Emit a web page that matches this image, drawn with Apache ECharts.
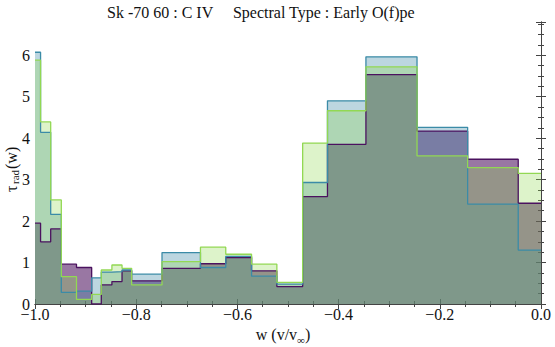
<!DOCTYPE html>
<html>
<head>
<meta charset="utf-8">
<script src="https://cdn.jsdelivr.net/npm/echarts@6/dist/echarts.min.js"></script>
<style>html,body{margin:0;padding:0;background:#fff}#c{width:555px;height:347px}</style>
</head>
<body>
<div id="c"></div>
<script>
// Bin edges (w = v/v_inf)
const edges = [-1.0, -0.989, -0.969, -0.948, -0.918, -0.888, -0.869, -0.848, -0.828, -0.809, -0.749, -0.673, -0.623, -0.572, -0.522, -0.471, -0.422, -0.346, -0.245, -0.145, -0.045, 0.0];
// tau_rad per bin, three histograms
const purpleVals = [1.95, 1.50, 1.81, 0.96, 0.88, 0.00, 0.46, 0.54, 0.80, 0.56, 0.86, 0.97, 1.12, 0.80, 0.42, 2.59, 3.85, 5.53, 4.17, 3.49, 2.43];
const blueVals   = [6.07, 4.14, 2.16, 0.28, 0.31, 0.63, 0.77, 0.78, 0.82, 0.72, 1.24, 0.88, 1.15, 0.67, 0.48, 2.93, 4.90, 5.96, 4.26, 2.41, 1.30];
const greenVals  = [5.88, 4.39, 2.51, 0.66, 0.11, 0.23, 0.82, 0.94, 0.86, 0.46, 1.02, 1.37, 1.20, 0.96, 0.52, 3.88, 4.66, 5.72, 3.57, 3.29, 3.15];
const xTicks = [-1.0, -0.8, -0.6, -0.4, -0.2, 0.0];
const yTicks = [0, 1, 2, 3, 4, 5, 6];
const titleText = 'Sk -70 60 : C IV     Spectral Type : Early O(f)pe';

const FONT = "'Liberation Serif','Times New Roman',serif";

function stepData(vals) {
  const d = vals.map((v, i) => [edges[i], v]);
  d.push([edges[edges.length - 1], vals[vals.length - 1]]);
  return d;
}
function hist(name, vals, stroke, fill) {
  return {
    name, type: 'line', step: 'end', data: stepData(vals),
    symbol: 'none', silent: true, animation: false,
    lineStyle: { color: stroke, width: 1.3 },
    areaStyle: { color: fill, opacity: 1, origin: 0 }
  };
}
const fmtX = v => {
  const r = Math.round(v * 10) / 10;
  return (r < 0 ? '\u2212' : '') + Math.abs(r).toFixed(1);
};

const chart = echarts.init(document.getElementById('c'), null, { renderer: 'svg' });
const frame = { show: true, lineStyle: { color: '#444', width: 1 } };
const tick = { show: true, inside: true, length: 5, lineStyle: { color: '#444' } };
const minor = (n) => ({ show: true, splitNumber: n, length: 3, lineStyle: { color: '#444' } });

chart.setOption({
  animation: false,
  backgroundColor: '#fff',
  grid: { left: 35, right: 14, top: 22, bottom: 43 },
  xAxis: [
    { type: 'value', position: 'bottom', min: -1, max: 0, interval: 0.2,
      axisLine: frame, axisTick: tick, minorTick: minor(4), splitLine: { show: false },
      axisLabel: { formatter: fmtX, fontFamily: FONT, fontSize: 16, color: '#111', margin: 2,
        customValues: xTicks } },
    { type: 'value', position: 'top', min: -1, max: 0, interval: 0.2,
      axisLine: frame, axisTick: tick, minorTick: minor(4), splitLine: { show: false },
      axisLabel: { show: false } }
  ],
  yAxis: [
    { type: 'value', position: 'left', min: 0, max: 6.8, interval: 1,
      axisLine: frame, axisTick: tick, minorTick: minor(4), splitLine: { show: false },
      axisLabel: { fontFamily: FONT, fontSize: 16, color: '#111', margin: 5, showMaxLabel: false,
        formatter: v => (yTicks.indexOf(v) >= 0 ? String(v) : '') } },
    { type: 'value', position: 'right', min: 0, max: 6.8, interval: 1,
      axisLine: frame, axisTick: tick, minorTick: minor(4), splitLine: { show: false },
      axisLabel: { show: false } }
  ],
  series: [
    hist('purple', purpleVals, '#4b125f', 'rgba(75,15,94,0.57)'),
    hist('blue', blueVals, '#3b8ba7', 'rgba(62,138,166,0.35)'),
    hist('green', greenVals, '#92d853', 'rgba(143,214,78,0.30)')
  ],
  graphic: [
    { type: 'text', x: 107, y: 12, style: { text: titleText, font: '16px ' + FONT, fill: '#111', align: 'left', verticalAlign: 'middle' } },
    { type: 'text', x: 283, y: 334, style: {
        text: '{a|w (v/v}{s|\u221e}{a|)}', align: 'center', verticalAlign: 'middle',
        rich: { a: { fontFamily: FONT, fontSize: 16, lineHeight: 22, fill: '#111', color: '#111' },
                s: { fontFamily: FONT, fontSize: 11, lineHeight: 11, verticalAlign: 'bottom', fill: '#111', color: '#111' } } } },
    { type: 'group', x: 11, y: 166, rotation: Math.PI / 2, children: [
      { type: 'text', x: -26, y: 0, style: { text: '\u03c4', font: '16px ' + FONT, fill: '#111', align: 'left', verticalAlign: 'middle' } },
      { type: 'text', x: -18, y: 4, style: { text: 'rad', font: '11px ' + FONT, fill: '#111', align: 'left', verticalAlign: 'middle' } },
      { type: 'text', x: -3, y: 0, style: { text: '(w)', font: '16px ' + FONT, fill: '#111', align: 'left', verticalAlign: 'middle' } }
    ] }
  ]
});
</script>
</body>
</html>
